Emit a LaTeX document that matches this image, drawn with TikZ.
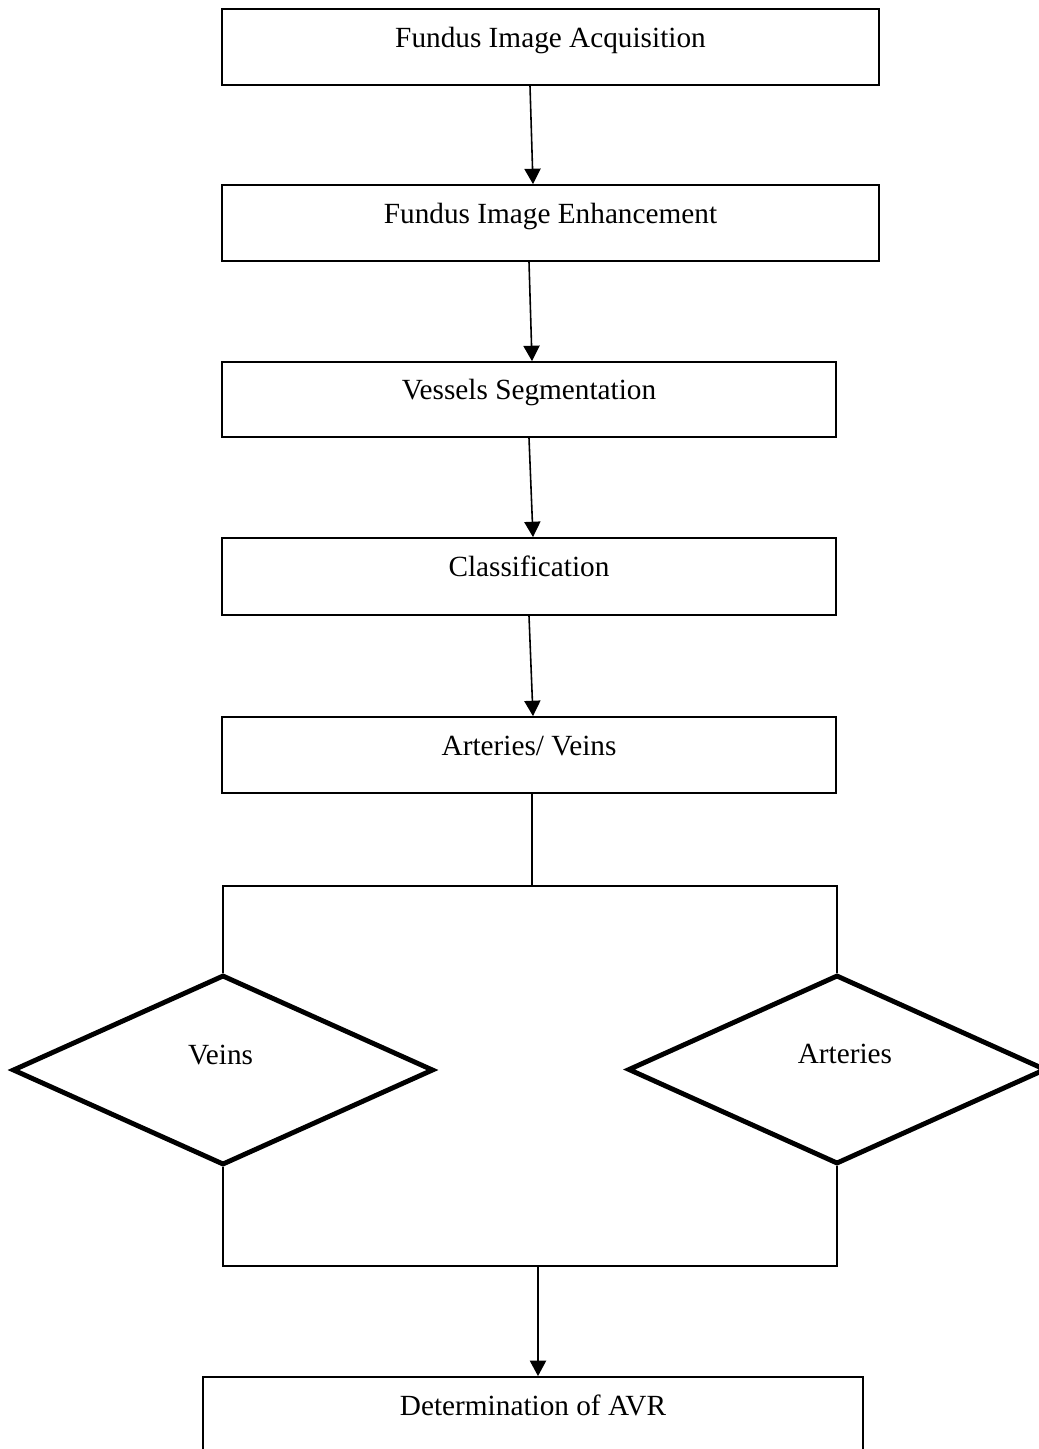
\documentclass[tikz,border=0pt]{standalone}
\usepackage{fontspec}
\setmainfont{Liberation Serif}
\usetikzlibrary{shapes.geometric,arrows.meta,calc}
\begin{document}
\begin{tikzpicture}[x=0.41pt,y=-0.41pt,
  every node/.style={font=\fontsize{12}{14}\selectfont},
  stepbox/.style={draw, line width=0.75pt, rectangle, inner sep=0pt,
    text height=10pt, text depth=10pt},
  choice/.style={draw, line width=2pt, diamond, inner sep=0pt,
    text height=10pt, text depth=14.6pt},
  conn/.style={line width=0.65pt},
  arr/.style={conn, -{Triangle[length=6.3pt,width=6.6pt]}}]
\useasboundingbox (0,0) rectangle (1039,1449);
\clip (0,0) rectangle (1039,1449);
\fill[white] (0,0) rectangle (1039,1449);

\node[stepbox, minimum width=657*0.41pt, minimum height=76*0.41pt] (b1) at (550.5,47) {Fundus Image Acquisition};
\node[stepbox, minimum width=657*0.41pt, minimum height=76*0.41pt] (b2) at (550.5,223) {Fundus Image Enhancement};
\node[stepbox, minimum width=614*0.41pt, minimum height=75*0.41pt] (b3) at (529,399.5) {Vessels Segmentation};
\node[stepbox, minimum width=614*0.41pt, minimum height=77*0.41pt] (b4) at (529,576.5) {Classification};
\node[stepbox, minimum width=614*0.41pt, minimum height=76*0.41pt] (b5) at (529,755) {Arteries/ Veins};
\node[choice, minimum width=421*0.41pt, minimum height=190*0.41pt] (dV) at (223,1070) {Veins\hspace*{2pt}};
\node[choice, minimum width=418*0.41pt, minimum height=189*0.41pt] (dA) at (837,1069.5) {\hspace*{6.5pt}Arteries};
\node[stepbox, minimum width=660*0.41pt, minimum height=76*0.41pt] (b6) at (533,1415) {Determination of AVR};

\coordinate (split) at (532,886);
\coordinate (join) at (538,1266);

\draw[arr] ($(b1.south)+(-20.5,0)$) -- ($(b2.north)+(-17.5,0)$);
\draw[arr] ($(b2.south)+(-21.5,0)$) -- ($(b3.north)+(3,0)$);
\draw[arr] (b3.south) -- ($(b4.north)+(4,0)$);
\draw[arr] (b4.south) -- ($(b5.north)+(4,0)$);
\draw[conn] ($(b5.south)+(3,0)$) -- (split);
\draw[conn] (dV.north) -- (dV.north |- split) -- (dA.north |- split) -- (dA.north);
\draw[conn] (dV.south) -- (dV.south |- join) -- (dA.south |- join) -- (dA.south);
\draw[arr] (join) -- (join |- b6.north);
\end{tikzpicture}
\end{document}
